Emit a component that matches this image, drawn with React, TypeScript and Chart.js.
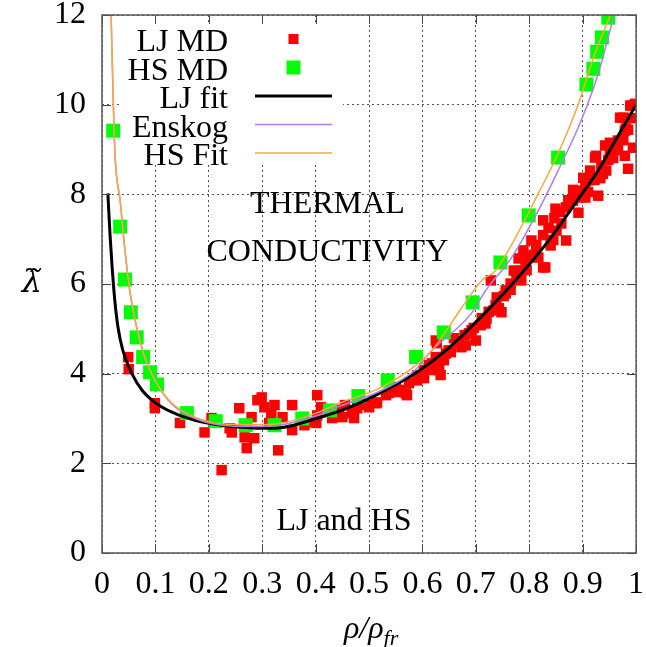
import React, { useEffect, useRef } from 'react';
import { Chart, registerables } from 'chart.js';

Chart.register(...registerables);

// ---------- data ----------
const ljMdX = [0.049, 0.050, 0.099, 0.099, 0.146, 0.192, 0.205, 0.224, 0.239, 0.243, 0.257, 0.267, 0.271, 0.280, 0.285, 0.291, 0.299, 0.304, 0.313, 0.317, 0.323, 0.330, 0.338, 0.356, 0.356, 0.379, 0.382, 0.401, 0.403, 0.410, 0.403, 0.431, 0.431, 0.450, 0.468, 0.472, 0.478, 0.478, 0.496, 0.500, 0.513, 0.515, 0.532, 0.550, 0.550, 0.569, 0.571, 0.575, 0.590, 0.590, 0.603, 0.612, 0.618, 0.618, 0.625, 0.627, 0.631, 0.644, 0.649, 0.659, 0.673, 0.687, 0.700, 0.709, 0.720, 0.733, 0.748, 0.739, 0.756, 0.728, 0.765, 0.771, 0.785, 0.799, 0.780, 0.785, 0.789, 0.804, 0.817, 0.830, 0.840, 0.826, 0.849, 0.851, 0.860, 0.869, 0.869, 0.882, 0.892, 0.892, 0.905, 0.905, 0.916, 0.929, 0.938, 0.901, 0.914, 0.923, 0.935, 0.944, 0.942, 0.951, 0.966, 0.979, 0.985, 0.994, 0.979, 0.970, 0.976, 0.989, 0.998, 0.897, 0.625, 0.681, 0.692, 0.718, 0.743, 0.756, 0.618, 0.631, 0.612, 0.826, 0.910, 0.925, 0.957, 0.981, 0.994,
  0.640, 0.653, 0.668, 0.679, 0.696, 0.711, 0.724, 0.737, 0.752, 0.765, 0.776, 0.793, 0.808, 0.813, 0.826, 0.836, 0.847, 0.858, 0.873, 0.910, 0.922, 0.933, 0.948, 0.957, 0.966, 0.976, 0.985, 0.991, 0.951, 0.882, 0.845, 0.795, 0.634, 0.603, 0.556, 0.537, 0.444, 0.455];
const ljMdY = [4.37, 4.10, 3.34, 3.23, 2.90, 2.69, 3.01, 1.85, 2.78, 2.69, 3.23, 2.58, 2.34, 3.03, 2.56, 3.41, 3.47, 3.25, 2.90, 3.12, 3.30, 2.29, 3.03, 3.30, 2.74, 2.85, 2.92, 2.90, 3.52, 3.25, 3.07, 3.12, 3.01, 3.03, 3.12, 3.01, 3.47, 3.23, 3.30, 3.25, 3.34, 3.36, 3.52, 3.70, 3.59, 3.56, 3.52, 3.79, 3.96, 3.85, 4.08, 4.12, 4.23, 4.14, 4.37, 4.68, 4.23, 4.45, 4.52, 4.79, 4.59, 4.90, 4.74, 5.08, 5.23, 5.41, 5.37, 5.70, 5.79, 6.08, 6.01, 6.30, 6.30, 6.59, 6.57, 6.08, 6.75, 6.97, 6.59, 6.37, 6.86, 7.42, 7.68, 7.19, 7.35, 6.97, 7.71, 7.86, 7.59, 8.08, 7.93, 8.24, 8.37, 7.97, 8.46, 8.37, 8.53, 8.82, 8.64, 8.53, 9.09, 9.15, 9.20, 8.86, 8.57, 9.04, 9.42, 9.71, 9.71, 9.98, 10.02, 7.93, 4.74, 4.63, 4.97, 5.12, 5.46, 5.86, 4.08, 4.08, 4.19, 6.37, 8.31, 8.86, 8.98, 9.47, 9.98,
  4.30, 4.48, 4.68, 4.86, 5.02, 5.24, 5.38, 5.53, 5.73, 5.87, 6.20, 6.49, 6.65, 6.87, 7.09, 7.25, 7.47, 7.61, 7.87, 8.05, 8.32, 8.36, 8.77, 8.81, 8.99, 9.21, 9.44, 9.70, 8.95, 8.10, 6.98, 6.31, 3.97, 3.90, 3.64, 3.57, 3.19, 3.30];

const hsMdX = [0.021, 0.034, 0.043, 0.054, 0.065, 0.077, 0.090, 0.103, 0.159, 0.213, 0.269, 0.323, 0.375, 0.427, 0.480, 0.535, 0.588, 0.640, 0.694, 0.746, 0.799, 0.854, 0.907, 0.920, 0.927, 0.936, 0.948];
const hsMdY = [9.42, 7.28, 6.10, 5.37, 4.81, 4.37, 4.03, 3.76, 3.12, 2.94, 2.85, 2.85, 3.00, 3.18, 3.50, 3.85, 4.37, 4.92, 5.59, 6.48, 7.53, 8.82, 10.45, 10.80, 11.18, 11.50, 11.94];

const ljFitX = [0.011, 0.015, 0.019, 0.024, 0.030, 0.039, 0.056, 0.075, 0.099, 0.131, 0.174, 0.224, 0.267, 0.300, 0.338, 0.401, 0.463, 0.524, 0.588, 0.644, 0.700, 0.774, 0.841, 0.886, 0.929, 0.960, 1.000];
const ljFitY = [8.02, 7.10, 6.37, 5.63, 5.03, 4.52, 4.00, 3.63, 3.36, 3.14, 2.96, 2.85, 2.80, 2.78, 2.80, 3.00, 3.25, 3.59, 4.02, 4.52, 5.15, 6.08, 7.04, 7.80, 8.53, 9.18, 10.00];

const enskogX = [0.017, 0.024, 0.034, 0.043, 0.052, 0.065, 0.080, 0.099, 0.131, 0.174, 0.235, 0.300, 0.338, 0.401, 0.444, 0.524, 0.588, 0.612, 0.692, 0.718, 0.767, 0.817, 0.854, 0.897, 0.929, 0.957];
const enskogY = [12.0, 8.98, 7.86, 6.75, 5.86, 5.03, 4.37, 3.85, 3.32, 3.00, 2.84, 2.82, 2.86, 3.06, 3.27, 3.63, 4.10, 4.45, 5.35, 5.85, 6.59, 7.64, 8.53, 9.64, 10.69, 11.92];

const hsFitX = [0.017, 0.024, 0.034, 0.043, 0.052, 0.065, 0.080, 0.099, 0.131, 0.174, 0.235, 0.300, 0.338, 0.401, 0.444, 0.524, 0.588, 0.618, 0.673, 0.711, 0.737, 0.761, 0.817, 0.854, 0.892, 0.923, 0.951];
const hsFitY = [12.0, 8.98, 7.86, 6.75, 5.86, 5.03, 4.37, 3.85, 3.34, 3.03, 2.87, 2.86, 2.90, 3.12, 3.34, 3.70, 4.19, 4.52, 5.46, 6.08, 6.30, 6.75, 8.02, 8.91, 10.02, 11.14, 11.98];

const xTickLabels = ['0', '0.1', '0.2', '0.3', '0.4', '0.5', '0.6', '0.7', '0.8', '0.9', '1'];
const yTickLabels = ['0', '2', '4', '6', '8', '10', '12'];
const legendLabels = ['LJ MD', 'HS MD', 'LJ fit', 'Enskog', 'HS Fit'];
const titleLines = ['THERMAL', 'CONDUCTIVITY'];
const noteText = 'LJ and HS';
const yTitle = 'λ̃';
const xTitleMain = 'ρ/ρ';
const xTitleSub = 'fr';

const RED = '#ff0000';
const GREEN = '#00ff00';
const PURPLE = '#b07cf6';
const ORANGE = '#ffa63a';
const FONT = '"Liberation Serif", "DejaVu Serif", serif';

const zip = (xs: number[], ys: number[]) => xs.map((x, i) => ({ x, y: ys[i] }));

const decorPlugin = {
  id: 'decor',
  beforeDatasetsDraw(chart: any) {
    const { ctx, chartArea } = chart;
    ctx.save();
    ctx.fillStyle = '#ffffff';
    ctx.fillRect(chartArea.left + 19, chartArea.top + 7, 222, 141);
    ctx.restore();
  },
  afterDraw(chart: any) {
    const { ctx, chartArea } = chart;
    const xs = chart.scales.x;
    const ys = chart.scales.y;
    const { left, right, top, bottom } = chartArea;
    ctx.save();
    // inward ticks
    ctx.strokeStyle = '#444';
    ctx.lineWidth = 1;
    const tl = 9;
    xs.ticks.forEach((t: any) => {
      const px = Math.round(xs.getPixelForValue(t.value)) + 0.5;
      ctx.beginPath();
      ctx.moveTo(px, bottom); ctx.lineTo(px, bottom - tl);
      ctx.moveTo(px, top); ctx.lineTo(px, top + tl);
      ctx.stroke();
    });
    ys.ticks.forEach((t: any) => {
      const py = Math.round(ys.getPixelForValue(t.value)) + 0.5;
      ctx.beginPath();
      ctx.moveTo(left, py); ctx.lineTo(left + tl, py);
      ctx.moveTo(right, py); ctx.lineTo(right - tl, py);
      ctx.stroke();
    });
    // frame
    ctx.strokeStyle = '#555';
    ctx.lineWidth = 1.5;
    ctx.strokeRect(left, top, right - left, bottom - top);

    // legend
    ctx.fillStyle = '#000';
    ctx.font = `32px ${FONT}`;
    ctx.textAlign = 'right';
    ctx.textBaseline = 'middle';
    const rowY0 = top + 24;
    const rowH = 28.5;
    const textRight = left + 126;
    const sx0 = left + 153;
    const sx1 = left + 230;
    legendLabels.forEach((lab, i) => {
      const yy = rowY0 + i * rowH;
      ctx.fillStyle = '#000';
      ctx.fillText(lab, textRight, yy + 4);
      if (i === 0) {
        ctx.fillStyle = RED;
        ctx.fillRect((sx0 + sx1) / 2 - 5, yy - 5, 10, 10);
      } else if (i === 1) {
        ctx.fillStyle = GREEN;
        ctx.fillRect((sx0 + sx1) / 2 - 7, yy - 7, 14, 14);
      } else {
        ctx.strokeStyle = i === 2 ? '#000' : i === 3 ? PURPLE : ORANGE;
        ctx.lineWidth = i === 2 ? 3 : 1.5;
        ctx.beginPath();
        ctx.moveTo(sx0, yy); ctx.lineTo(sx1, yy);
        ctx.stroke();
      }
    });

    // annotations
    ctx.fillStyle = '#000';
    ctx.textAlign = 'center';
    ctx.font = `32px ${FONT}`;
    ctx.fillText(titleLines[0], xs.getPixelForValue(0.422), ys.getPixelForValue(7.76));
    ctx.fillText(titleLines[1], xs.getPixelForValue(0.422), ys.getPixelForValue(6.69));
    ctx.fillText(noteText, xs.getPixelForValue(0.453), ys.getPixelForValue(0.69));

    // y title
    ctx.font = `italic 32px "DejaVu Serif", serif`;
    ctx.fillText(yTitle, 32, (top + bottom) / 2);

    // x title with subscript
    ctx.font = `italic 32px ${FONT}`;
    const wMain = ctx.measureText(xTitleMain).width;
    ctx.font = `italic 22px ${FONT}`;
    const wSub = ctx.measureText(xTitleSub).width;
    const cx = (left + right) / 2 + 2;
    const startX = cx - (wMain + wSub) / 2;
    const ty = 630;
    ctx.textAlign = 'left';
    ctx.font = `italic 32px ${FONT}`;
    ctx.fillText(xTitleMain, startX, ty);
    ctx.font = `italic 22px ${FONT}`;
    ctx.fillText(xTitleSub, startX + wMain, ty + 9);
    ctx.restore();
  },
};

export default function App() {
  const ref = useRef<HTMLCanvasElement | null>(null);
  useEffect(() => {
    if (!ref.current) return;
    const chart = new Chart(ref.current, {
      type: 'scatter',
      data: {
        datasets: [
          {
            label: legendLabels[4], type: 'line', data: zip(hsFitX, hsFitY),
            borderColor: ORANGE, borderWidth: 1.5, pointRadius: 0, fill: false,
            cubicInterpolationMode: 'monotone', order: 1,
          } as any,
          {
            label: legendLabels[3], type: 'line', data: zip(enskogX, enskogY),
            borderColor: PURPLE, borderWidth: 1.5, pointRadius: 0, fill: false,
            cubicInterpolationMode: 'monotone', order: 2,
          } as any,
          {
            label: legendLabels[2], type: 'line', data: zip(ljFitX, ljFitY),
            borderColor: '#000', borderWidth: 3, pointRadius: 0, fill: false,
            cubicInterpolationMode: 'monotone', order: 3,
          } as any,
          {
            label: legendLabels[1], data: zip(hsMdX, hsMdY), pointStyle: 'rect',
            pointRadius: 9.9, backgroundColor: GREEN, borderWidth: 0, order: 4,
          } as any,
          {
            label: legendLabels[0], data: zip(ljMdX, ljMdY), pointStyle: 'rect',
            pointRadius: 7.4, backgroundColor: RED, borderWidth: 0, order: 5,
          } as any,
        ],
      },
      options: {
        animation: false,
        responsive: true,
        maintainAspectRatio: false,
        layout: { padding: { top: 15, right: 8, left: 0, bottom: 0 } },
        plugins: { legend: { display: false }, tooltip: { enabled: false } },
        scales: {
          x: {
            type: 'linear', min: 0, max: 1,
            afterFit: (s: any) => { s.height = 94; s.paddingLeft = 0; s.paddingRight = 0; },
            ticks: {
              stepSize: 0.1, padding: 12, color: '#000',
              font: { family: FONT, size: 32 },
              callback: (_v: any, i: number) => xTickLabels[i],
              maxRotation: 0, autoSkip: false,
            },
            grid: { color: '#555', lineWidth: 1, drawTicks: false },
            border: { display: false, dash: [2, 3] },
          },
          y: {
            type: 'linear', min: 0, max: 12,
            afterFit: (s: any) => { s.width = 102; s.paddingTop = 0; s.paddingBottom = 0; },
            ticks: {
              stepSize: 2, padding: 16, color: '#000',
              font: { family: FONT, size: 32 },
              callback: (_v: any, i: number) => yTickLabels[i],
            },
            grid: { color: '#555', lineWidth: 1, drawTicks: false },
            border: { display: false, dash: [2, 3] },
          },
        },
      },
      plugins: [decorPlugin],
    });
    return () => chart.destroy();
  }, []);
  return (
    <div style={{ position: 'fixed', left: 0, top: 0, width: 646, height: 647, background: '#fff' }}>
      <canvas ref={ref} />
    </div>
  );
}
